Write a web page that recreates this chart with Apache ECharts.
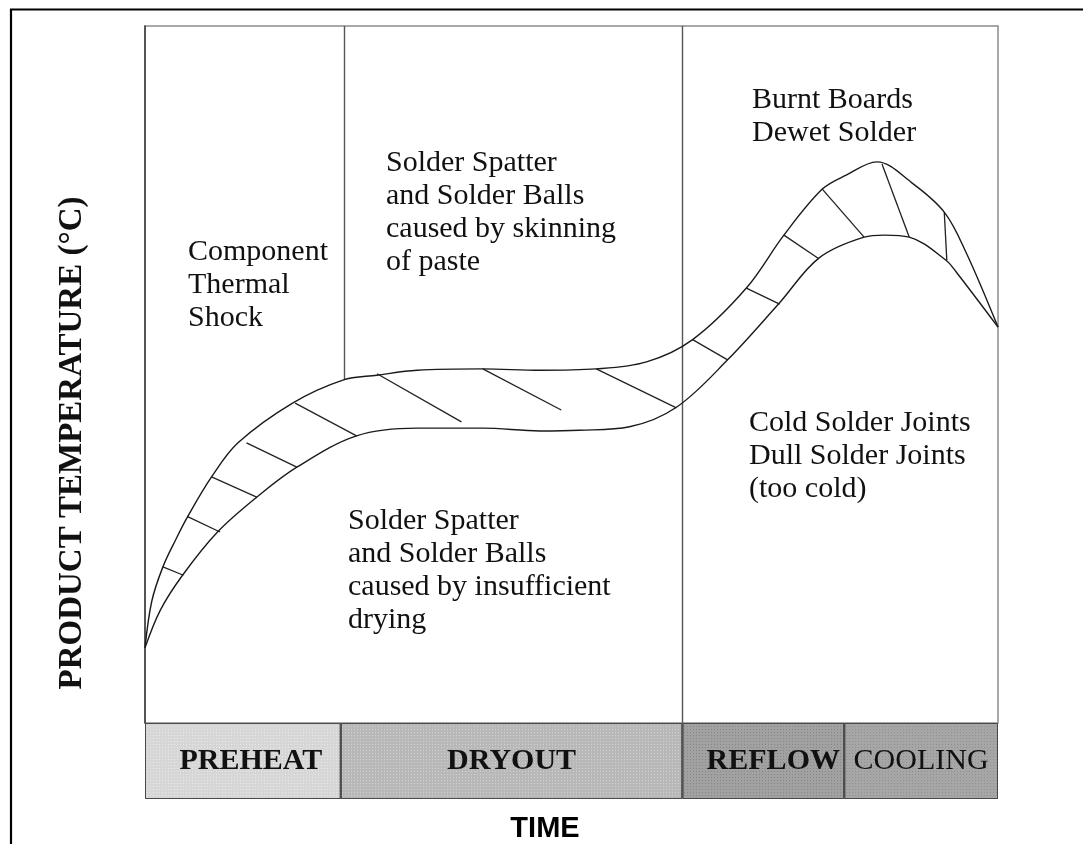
<!DOCTYPE html>
<html>
<head>
<meta charset="utf-8">
<title>Reflow soldering profile</title>
<script src="https://cdn.jsdelivr.net/npm/echarts@6/dist/echarts.min.js"></script>
<style>
    html, body { margin: 0; padding: 0; background: #fff; }
    #charts { width: 1083px; height: 844px; }
</style>
</head>
<body>
<div id="charts"></div>
<script>
// time runs 0..100 across the plot, temperature 0..100 up the plot (relative units, no scale in the original)
var upperCurve = [[0, 10.8], [0.8, 17.5], [2.1, 22.4], [3.6, 26.3], [5.0, 29.6], [7.8, 35.3], [10.9, 40.2],
    [17.3, 45.9], [23.2, 49.2], [27.2, 49.9], [31.9, 50.6], [39.6, 50.8], [46.3, 50.6], [52.9, 50.8],
    [58.8, 51.8], [64.2, 55.0], [70.5, 62.4], [74.9, 70.0], [79.4, 76.6], [82.2, 78.6], [85.8, 80.5],
    [89.9, 77.5], [93.7, 73.3], [96.3, 67.4], [100, 56.8]];
var lowerCurve = [[0, 10.8], [1.8, 16.2], [4.4, 21.2], [8.5, 27.4], [13.1, 32.4], [17.8, 36.7], [24.8, 41.2],
    [31.9, 42.3], [39.6, 42.3], [46.3, 41.9], [50.9, 42.0], [56.8, 42.5], [62.3, 45.3], [68.3, 52.1],
    [74.4, 60.3], [79.0, 66.7], [84.3, 69.7], [86.7, 70.0], [89.6, 69.7], [93.9, 66.4], [95.1, 64.7], [100, 56.8]];
// cross lines between the two curves
var rungs = [
    [[2.1, 22.4], [4.5, 21.2]],
    [[5.0, 29.6], [8.8, 27.4]],
    [[7.8, 35.3], [13.1, 32.4]],
    [[11.9, 40.2], [17.8, 36.7]],
    [[17.6, 45.9], [24.8, 41.2]],
    [[27.2, 50.1], [37.1, 43.2]],
    [[39.6, 50.8], [48.8, 44.9]],
    [[52.9, 50.8], [62.3, 45.2]],
    [[64.2, 55.0], [68.3, 52.1]],
    [[70.5, 62.4], [74.4, 60.1]],
    [[74.9, 70.0], [79.0, 66.6]],
    [[79.4, 76.6], [84.3, 69.7]],
    [[86.4, 80.2], [89.6, 69.7]],
    [[93.7, 73.3], [94.0, 66.4]]
];
var dividers = [
    [[23.4, 100], [23.4, 49.2]],
    [[63.0, 100], [63.0, 0]]
];
var phaseNames = ['PREHEAT', 'DRYOUT', 'REFLOW', 'COOLING'];
var phaseWidths = [22.95, 40.05, 18.97, 18.03];

var serif = '"Liberation Serif", "DejaVu Serif", serif';
var phaseColors = ['#d6d6d6', '#b8b8b8', '#a1a1a1', '#a6a6a6'];
var phaseDots = ['rgba(255,255,255,0.45)', 'rgba(255,255,255,0.35)', 'rgba(60,60,60,0.25)', 'rgba(60,60,60,0.2)'];
var labelOffsets = [[8, 0], [0, 0], [10, 0], [0, 0]];

var myChart = echarts.init(document.getElementById('charts'));

var series = [{
    name: 'upper',
    type: 'line',
    data: upperCurve,
    smooth: 0.35,
    symbol: 'none',
    silent: true,
    lineStyle: { color: '#1a1a1a', width: 1.4 }
}, {
    name: 'lower',
    type: 'line',
    data: lowerCurve,
    smooth: 0.35,
    symbol: 'none',
    silent: true,
    lineStyle: { color: '#1a1a1a', width: 1.4 }
}, {
    name: 'rungs',
    type: 'lines',
    coordinateSystem: 'cartesian2d',
    xAxisIndex: 0,
    yAxisIndex: 0,
    silent: true,
    data: rungs.map(function (c) { return { coords: c }; }),
    lineStyle: { color: '#222', width: 1.3, opacity: 1 }
}, {
    name: 'dividers',
    type: 'lines',
    coordinateSystem: 'cartesian2d',
    xAxisIndex: 0,
    yAxisIndex: 0,
    silent: true,
    data: dividers.map(function (c) { return { coords: c }; }),
    lineStyle: { color: '#555', width: 1.4, opacity: 1 }
}];

for (var i = 0; i < phaseNames.length; i++) {
    series.push({
        name: phaseNames[i],
        type: 'bar',
        xAxisIndex: 1,
        yAxisIndex: 1,
        stack: 'band',
        barWidth: '100%',
        silent: true,
        data: [phaseWidths[i]],
        itemStyle: {
            color: phaseColors[i],
            borderColor: '#4a4a4a',
            borderWidth: 1,
            decal: {
                symbol: 'rect',
                symbolSize: 1,
                color: phaseDots[i],
                dashArrayX: [1, 2],
                dashArrayY: [1, 2],
                rotation: 0
            }
        },
        label: {
            show: true,
            position: 'inside',
            offset: labelOffsets[i],
            formatter: phaseNames[i],
            fontFamily: serif,
            fontSize: 30,
            fontWeight: i == 3 ? 'normal' : 'bold',
            color: '#111'
        }
    });
}

var noteStyle = function (text, x, y) {
    return {
        type: 'text',
        x: x,
        y: y,
        silent: true,
        style: {
            text: text,
            font: '30px ' + serif,
            lineHeight: 33,
            fill: '#111',
            align: 'left',
            verticalAlign: 'top'
        }
    };
};

option = {
    animation: false,
    backgroundColor: '#fff',
    grid: [{
        left: 145, top: 26, width: 853, height: 697,
        show: true, borderColor: '#8c8c8c', borderWidth: 1.5, backgroundColor: '#fff'
    }, {
        left: 145, top: 723, width: 853, height: 76
    }],
    xAxis: [
        { gridIndex: 0, type: 'value', min: 0, max: 100, show: false },
        { gridIndex: 1, type: 'value', min: 0, max: 100, show: false }
    ],
    yAxis: [{
        gridIndex: 0, type: 'value', min: 0, max: 100,
        axisLine: { show: true, lineStyle: { color: '#3a3a3a', width: 1.5 } },
        axisTick: { show: false },
        axisLabel: { show: false },
        splitLine: { show: false }
    }, {
        gridIndex: 1, type: 'category', data: ['phase'], show: false
    }],
    series: series,
    graphic: [{
        type: 'polyline',
        silent: true,
        shape: { points: [[11, 844], [11, 9.5], [1083, 9.5]] },
        style: { stroke: '#000', lineWidth: 2.2, fill: null }
    }, {
        // page title, cut off by the top edge in the original
        type: 'text',
        x: 294,
        y: -11,
        silent: true,
        style: {
            text: 'Figure 12. Typical IR Reflow Soldering profile',
            font: 'bold 22px "Liberation Sans", Arial, sans-serif',
            fill: '#000',
            verticalAlign: 'middle'
        }
    }, {
        type: 'text',
        x: 72,
        y: 443,
        rotation: Math.PI / 2,
        silent: true,
        style: {
            text: 'PRODUCT TEMPERATURE (°C)',
            font: 'bold 33px ' + serif,
            fill: '#111',
            align: 'center',
            verticalAlign: 'middle'
        }
    }, {
        type: 'text',
        x: 545,
        y: 829,
        silent: true,
        style: {
            text: 'TIME',
            font: 'bold 29px "Liberation Sans", Arial, sans-serif',
            fill: '#000',
            align: 'center',
            verticalAlign: 'middle'
        }
    },
        noteStyle('Component\nThermal\nShock', 188, 236),
        noteStyle('Solder Spatter\nand Solder Balls\ncaused by skinning\nof paste', 386, 147),
        noteStyle('Solder Spatter\nand Solder Balls\ncaused by insufficient\ndrying', 348, 505),
        noteStyle('Burnt Boards\nDewet Solder', 752, 84),
        noteStyle('Cold Solder Joints\nDull Solder Joints\n(too cold)', 749, 407)
    ]
};

myChart.setOption(option);
</script>
</body>
</html>
